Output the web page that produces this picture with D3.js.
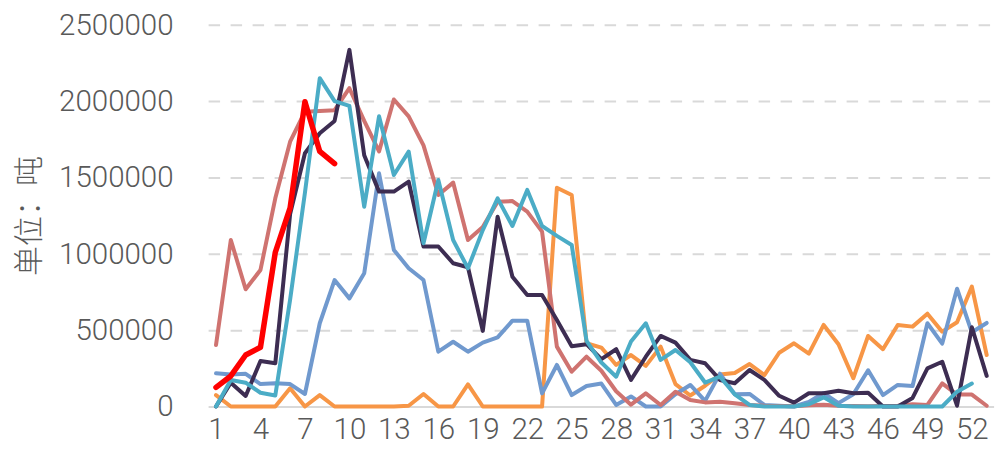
<!DOCTYPE html>
<html>
<head>
<meta charset="utf-8">
<script src="https://cdn.jsdelivr.net/npm/d3@7/dist/d3.min.js"></script>
<style>
  html, body { margin: 0; padding: 0; background: #ffffff; }
  svg { display: block; }
  .tick text { font-family: Roboto, "Liberation Sans", Arial, sans-serif; font-weight: 300; }
</style>
</head>
<body>
<svg id="chart" width="996" height="454"></svg>
<script>
// Weekly volume (tons), weeks 1–53
const weeks = d3.range(1, 54);
const xTickWeeks = [1, 4, 7, 10, 13, 16, 19, 22, 25, 28, 31, 34, 37, 40, 43, 46, 49, 52];
const yTicks = [0, 500000, 1000000, 1500000, 2000000, 2500000];
const yTitle = "单位：吨";

const orangeValues = [75000, 0, 0, 0, 0, 119000, 0, 75000, 0, 0,
  0, 0, 0, 5000, 82000, 0, 0, 145000, 0, 0,
  0, 0, 0, 1432000, 1385000, 414000, 386000, 272000, 337000, 266000,
  392000, 147000, 72000, 136000, 210000, 219000, 278000, 206000, 352000, 414000,
  346000, 534000, 408000, 185000, 462000, 375000, 534000, 523000, 608000, 490000,
  552000, 785000, 337000];

const blueValues = [217000, 209000, 214000, 147000, 152000, 147000, 82000, 545000, 828000, 708000,
  872000, 1527000, 1025000, 905000, 828000, 359000, 424000, 359000, 418000, 453000,
  562000, 562000, 86000, 272000, 75000, 134000, 150000, 10000, 66000, 0,
  0, 80000, 141000, 37000, 215000, 80000, 82000, 10000, 5000, 0,
  30000, 88000, 22000, 80000, 237000, 75000, 141000, 134000, 545000, 412000,
  771000, 486000, 547000];

const roseValues = [403000, 1090000, 768000, 894000, 1363000, 1734000, 1930000, 1935000, 1940000, 2084000,
  1870000, 1670000, 2010000, 1900000, 1710000, 1385000, 1466000, 1090000, 1175000, 1340000,
  1345000, 1276000, 1145000, 392000, 228000, 326000, 234000, 100000, 12000, 86000,
  10000, 97000, 43000, 27000, 31000, 21000, 10000, 5000, 3000, 2000,
  8000, 12000, 5000, 3000, 2000, 3000, 5000, 15000, 10000, 152000,
  78000, 78000, 5000];

const purpleValues = [0, 156000, 69000, 298000, 283000, 1260000, 1658000, 1789000, 1870000, 2335000,
  1645000, 1407000, 1407000, 1472000, 1048000, 1048000, 938000, 912000, 495000, 1243000,
  850000, 730000, 730000, 566000, 394000, 408000, 310000, 375000, 174000, 326000,
  462000, 418000, 305000, 283000, 174000, 152000, 239000, 174000, 70000, 25000,
  87000, 87000, 103000, 87000, 90000, 0, 0, 56000, 250000, 293000,
  5000, 519000, 200000];

const tealValues = [0, 174000, 156000, 90000, 72000, 700000, 1400000, 2150000, 2000000, 1968000,
  1308000, 1900000, 1516000, 1669000, 1069000, 1483000, 1090000, 905000, 1155000, 1363000,
  1182000, 1418000, 1182000, 1117000, 1058000, 430000, 288000, 195000, 425000, 545000,
  305000, 370000, 290000, 157000, 195000, 80000, 10000, 0, 0, 0,
  15000, 60000, 5000, 0, 0, 0, 0, 0, 0, 0,
  97000, 150000];

const redValues = [125000, 200000, 337000, 388000, 1010000, 1300000, 1996000, 1670000, 1590000];

// Drawing order: later series sit on top
const seriesList = [
  { values: orangeValues, color: "#F79646", width: 4 },
  { values: blueValues,   color: "#7099CE", width: 4 },
  { values: roseValues,   color: "#CF7370", width: 4 },
  { values: purpleValues, color: "#3D2D52", width: 4 },
  { values: tealValues,   color: "#4BACC6", width: 4 },
  { values: redValues,    color: "#FF0000", width: 5.5 }
];

const svg = d3.select("#chart");
svg.append("rect").attr("width", 996).attr("height", 454).attr("fill", "#ffffff");

const x = d3.scaleLinear().domain([0.5, 53.5]).range([208.6, 994.1]);
const y = d3.scaleLinear().domain([0, 2500000]).range([406.5, 24.7]);

// Horizontal gridlines with value labels
const yAxis = svg.append("g")
  .attr("transform", "translate(208.6,0)")
  .call(d3.axisLeft(y).tickValues(yTicks).tickFormat(d3.format("d"))
    .tickSize(-(994.1 - 208.6)).tickPadding(35));
yAxis.select(".domain").remove();
yAxis.selectAll(".tick line")
  .attr("stroke", "#D9D9D9")
  .attr("stroke-width", 2)
  .attr("stroke-dasharray", d => d === 0 ? null : "11.5,10.5");
yAxis.selectAll(".tick text")
  .attr("fill", "#595959")
  .attr("font-size", 29.5);

// Week labels along the bottom
const xAxis = svg.append("g")
  .attr("transform", `translate(0,${y(0)})`)
  .call(d3.axisBottom(x).tickValues(xTickWeeks).tickFormat(d3.format("d"))
    .tickSize(0).tickPadding(12));
xAxis.select(".domain").remove();
xAxis.selectAll(".tick text")
  .attr("fill", "#595959")
  .attr("font-size", 29.5)
  .attr("dy", "0.71em");

// Unit title
svg.append("text")
  .attr("transform", "translate(26,216) rotate(-90)")
  .attr("text-anchor", "middle")
  .attr("dominant-baseline", "central")
  .attr("font-family", "'Noto Sans CJK SC', sans-serif")
  .attr("font-weight", 300)
  .attr("font-size", 30)
  .attr("fill", "#595959")
  .text(yTitle);

const line = d3.line()
  .x((d, i) => x(weeks[i]))
  .y(d => y(d));

svg.append("g").selectAll("path")
  .data(seriesList)
  .join("path")
  .attr("d", s => line(s.values))
  .attr("fill", "none")
  .attr("stroke", s => s.color)
  .attr("stroke-width", s => s.width)
  .attr("stroke-linejoin", "round")
  .attr("stroke-linecap", "round");
</script>
</body>
</html>
